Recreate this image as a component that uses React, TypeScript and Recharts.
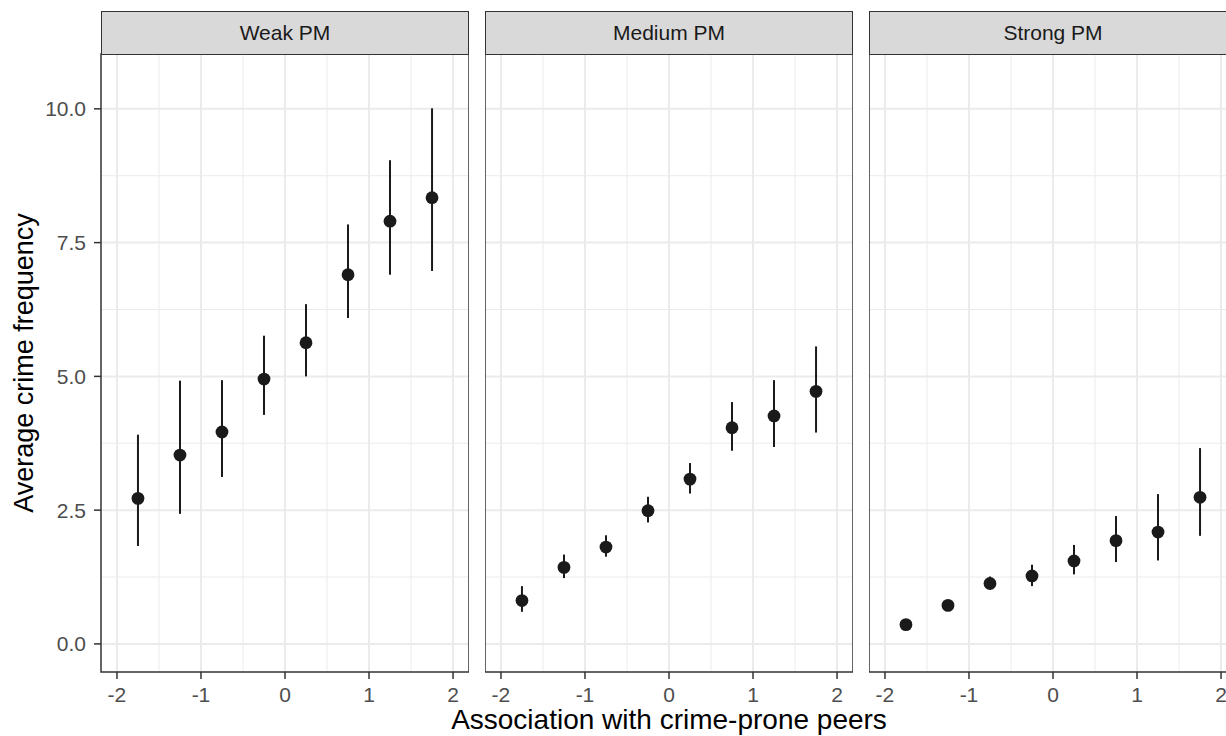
import { ScatterChart, Scatter, XAxis, YAxis, CartesianGrid, ErrorBar, ReferenceArea } from 'recharts'

const xs = [-1.75, -1.25, -0.75, -0.25, 0.25, 0.75, 1.25, 1.75]

const weakMean = [2.72, 3.53, 3.96, 4.95, 5.63, 6.9, 7.9, 8.34]
const weakLow = [1.83, 2.43, 3.12, 4.28, 5.0, 6.09, 6.9, 6.97]
const weakHigh = [3.91, 4.92, 4.93, 5.76, 6.35, 7.84, 9.04, 10.01]

const mediumMean = [0.81, 1.43, 1.81, 2.49, 3.08, 4.04, 4.26, 4.72]
const mediumLow = [0.6, 1.23, 1.63, 2.27, 2.81, 3.61, 3.68, 3.95]
const mediumHigh = [1.08, 1.67, 2.03, 2.75, 3.38, 4.52, 4.93, 5.56]

const strongMean = [0.36, 0.72, 1.13, 1.27, 1.55, 1.93, 2.09, 2.74]
const strongLow = [0.3, 0.64, 1.01, 1.08, 1.3, 1.53, 1.56, 2.02]
const strongHigh = [0.42, 0.8, 1.26, 1.48, 1.85, 2.39, 2.8, 3.66]

const panelNames = ['Weak PM', 'Medium PM', 'Strong PM']
const xTicks = [-2, -1, 0, 1, 2]
const xMinor = [-1.5, -0.5, 0.5, 1.5]
const yTicks = [0, 2.5, 5, 7.5, 10]
const yMinor = [1.25, 3.75, 6.25, 8.75]

const FONT = '"Liberation Sans", Arial, sans-serif'
const X_DOMAIN: [number, number] = [-2.19, 2.19]
const Y_DOMAIN: [number, number] = [-0.525, 11.025]

const build = (mean: number[], low: number[], high: number[]) =>
  xs.map((x, i) => ({ x, y: mean[i], err: [mean[i] - low[i], high[i] - mean[i]] }))

const panels = [
  build(weakMean, weakLow, weakHigh),
  build(mediumMean, mediumLow, mediumHigh),
  build(strongMean, strongLow, strongHigh),
]

const plotLefts = [101, 485, 869]
const PLOT_W = 368

function Panel({ index }: { index: number }) {
  const first = index === 0
  const left = first ? 0 : plotLefts[index]
  const width = first ? 101 + PLOT_W : PLOT_W
  return (
    <div style={{ position: 'absolute', left, top: 0 }}>
      <ScatterChart width={width} height={736} margin={{ top: 54, right: 0, bottom: 24, left: 0 }}>
        <CartesianGrid stroke="#ebebeb" strokeWidth={1} horizontalValues={yMinor} verticalValues={xMinor} />
        <CartesianGrid stroke="#ebebeb" strokeWidth={2} horizontalValues={yTicks} verticalValues={xTicks} />
        <XAxis
          type="number"
          dataKey="x"
          domain={X_DOMAIN}
          ticks={xTicks}
          allowDataOverflow
          axisLine={false}
          tickSize={7}
          tickMargin={8}
          height={40}
          tickLine={{ stroke: '#333333', strokeWidth: 1.5 }}
          tick={{ fill: '#4d4d4d', fontSize: 21, fontFamily: FONT }}
        />
        <YAxis
          type="number"
          dataKey="y"
          domain={Y_DOMAIN}
          ticks={yTicks}
          allowDataOverflow
          hide={!first}
          width={101}
          axisLine={false}
          tickSize={7}
          tickMargin={8}
          tickFormatter={(v: number) => v.toFixed(1)}
          tickLine={{ stroke: '#333333', strokeWidth: 1.5 }}
          tick={{ fill: '#4d4d4d', fontSize: 21, fontFamily: FONT }}
        />
        <ReferenceArea
          x1={X_DOMAIN[0]}
          x2={X_DOMAIN[1]}
          y1={Y_DOMAIN[0]}
          y2={Y_DOMAIN[1]}
          fill="none"
          stroke="#333333"
          strokeWidth={1.5}
        />
        <Scatter
          data={panels[index]}
          isAnimationActive={false}
          shape={(p: any) => <circle cx={p.cx} cy={p.cy} r={6.4} fill="#1a1a1a" />}
        >
          <ErrorBar dataKey="err" direction="y" width={0} stroke="#1a1a1a" strokeWidth={2} isAnimationActive={false} />
        </Scatter>
      </ScatterChart>
      <div
        style={{
          position: 'absolute',
          left: first ? 101 : 0,
          top: 11,
          width: PLOT_W,
          height: 44,
          boxSizing: 'border-box',
          background: '#d9d9d9',
          border: '1.5px solid #333333',
          color: '#1a1a1a',
          fontFamily: FONT,
          fontSize: 21,
          lineHeight: '41px',
          textAlign: 'center',
        }}
      >
        {panelNames[index]}
      </div>
    </div>
  )
}

export default function App() {
  return (
    <div style={{ position: 'absolute', left: 0, top: 0, width: 1226, height: 736, overflow: 'hidden', background: '#fff' }}>
      {panelNames.map((_, i) => (
        <Panel key={i} index={i} />
      ))}
      <svg width={1226} height={736} style={{ position: 'absolute', left: 0, top: 0, pointerEvents: 'none' }}>
        <text x={669} y={729} textAnchor="middle" fontFamily={FONT} fontSize={28} fill="#000">
          Association with crime-prone peers
        </text>
        <text transform="translate(33,363) rotate(-90)" textAnchor="middle" fontFamily={FONT} fontSize={27} fill="#000">
          Average crime frequency
        </text>
      </svg>
    </div>
  )
}
